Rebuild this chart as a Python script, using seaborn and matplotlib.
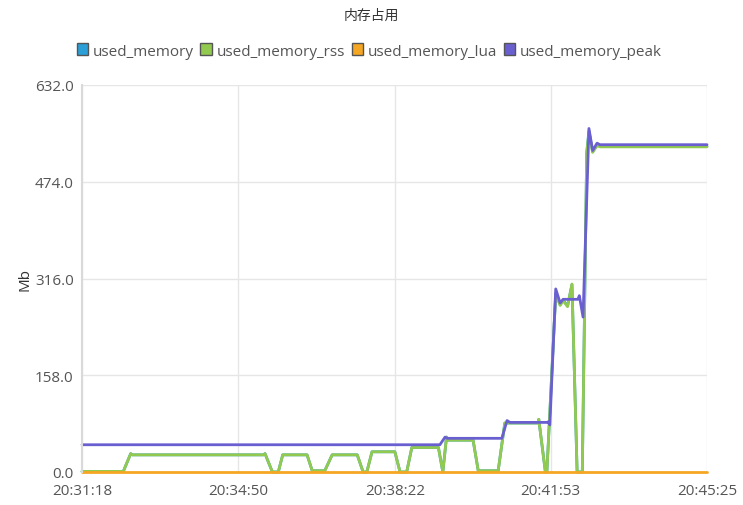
import numpy as np
import pandas as pd
import matplotlib
matplotlib.use("Agg")
import matplotlib.pyplot as plt
import seaborn as sns
from matplotlib.patches import Patch

# x values are seconds after 20:31:18
tick_labels = ["20:31:18", "20:34:50", "20:38:22", "20:41:53", "20:45:25"]
y_ticks = [0.0, 158.0, 316.0, 474.0, 632.0]

rss_t = [0, 56, 66, 68, 246, 248, 258, 266, 272, 305, 312, 329, 339, 373, 381, 386,
         393, 424, 431, 440, 447, 483, 489, 494, 496, 530, 537, 564, 573, 618, 619,
         628, 630, 642, 648, 652, 658, 664, 671, 678, 684, 687, 692, 698, 702, 847]
rss_v = [1, 1, 30, 28, 28, 30, 0, 0, 28, 28, 2, 2, 28, 28, 0, 0,
         33, 33, 0, 0, 40, 40, 0, 57, 52, 52, 2, 2, 80, 80, 86,
         0, 0, 290, 272, 280, 270, 307, 0, 0, 520, 555, 522, 533, 531, 531]

mem_t = rss_t
mem_v = [1, 1, 30, 28, 28, 30, 0, 0, 28, 28, 2, 2, 28, 28, 0, 0,
         33, 33, 0, 0, 40, 40, 0, 57, 52, 52, 2, 2, 80, 80, 86,
         0, 0, 292, 273, 281, 271, 306, 0, 0, 522, 557, 523, 534, 532, 532]

lua_t = [0, 847]
lua_v = [0, 0]

peak_t = [0, 485, 492, 495, 569, 576, 580, 630, 632, 634, 642, 648, 652, 672, 674,
          679, 687, 692, 698, 702, 847]
peak_v = [44.5, 44.5, 57, 55, 55, 84, 81, 81, 82, 77, 299, 276, 282, 282, 288,
          253, 561, 525, 537, 534.5, 534.5]

names = ["used_memory", "used_memory_rss", "used_memory_lua", "used_memory_peak"]
colors = ["#2a9fd8", "#92c94f", "#f5a623", "#6a5fd1"]

frames = []
for name, t, v in zip(names, [mem_t, rss_t, lua_t, peak_t], [mem_v, rss_v, lua_v, peak_v]):
    frames.append(pd.DataFrame({"t": t, "value": v, "series": name}))
df = pd.concat(frames, ignore_index=True)

sns.set_style("white")
plt.rcParams["font.family"] = ["Open Sans", "Noto Sans CJK SC", "DejaVu Sans"]

fig = plt.figure(figsize=(7.43, 5.06), dpi=100)
ax = fig.add_axes([82 / 743, 1 - 473 / 506, 625 / 743, 387 / 506])

sns.lineplot(data=df, x="t", y="value", hue="series", hue_order=names,
             palette=colors, linewidth=2, legend=False, ax=ax, sort=False,
             estimator=None)
for line in ax.get_lines():
    line.set_clip_on(False)

def to_sec(s):
    h, m, sec = [int(p) for p in s.split(":")]
    return h * 3600 + m * 60 + sec

x_ticks = [to_sec(s) - to_sec(tick_labels[0]) for s in tick_labels]
ax.set_xlim(0, x_ticks[-1])
ax.set_ylim(0, 632)
ax.set_xticks(x_ticks)
ax.set_xticklabels(tick_labels)
ax.set_yticks(y_ticks)
ax.set_yticklabels([f"{v:.1f}" for v in y_ticks])
ax.grid(True, color="#e6e6e6", linewidth=1)
ax.set_axisbelow(True)
for side in ["top", "right", "bottom"]:
    ax.spines[side].set_visible(False)
ax.spines["left"].set_color("#d9d9d9")
ax.spines["left"].set_linewidth(1.5)
ax.tick_params(axis="y", length=5, color="#d9d9d9", labelsize=11, labelcolor="#555555", pad=1)
ax.tick_params(axis="x", length=0, labelsize=11, labelcolor="#555555", pad=8)
ax.set_xlabel("")
ax.set_ylabel("Mb", fontsize=11, color="#333333", labelpad=2)

fig.text(0.5, 1 - 16 / 506, "内存占用", ha="center", va="center", fontsize=10, color="#333333")

handles = [Patch(facecolor=c, edgecolor="#555555", linewidth=1) for c in colors]
fig.legend(handles, names, loc="center", bbox_to_anchor=(0.497, 1 - 52 / 506), ncol=4,
           frameon=False, fontsize=11, handlelength=0.75, handleheight=0.85,
           handletextpad=0.3, columnspacing=0.45, labelcolor="#555555")

fig.savefig("out.png", dpi=100)
